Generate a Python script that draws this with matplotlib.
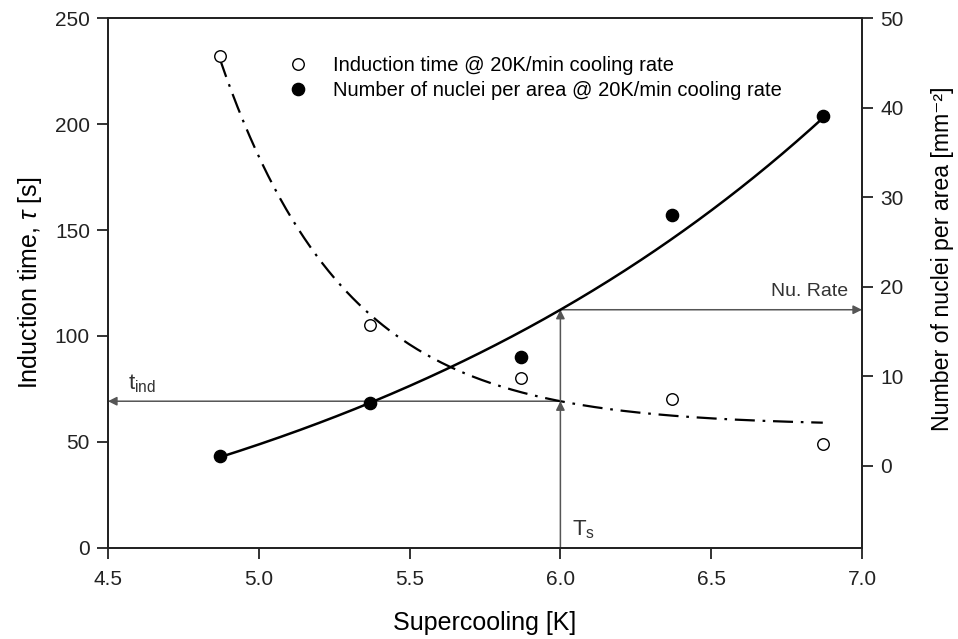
import numpy as np
import matplotlib
matplotlib.use("Agg")
import matplotlib.pyplot as plt
from matplotlib.lines import Line2D

plt.rcParams['font.family'] = ['Liberation Sans', 'DejaVu Sans']
plt.rcParams['mathtext.fontset'] = 'custom'
plt.rcParams['mathtext.rm'] = 'Liberation Sans'
plt.rcParams['mathtext.it'] = 'Liberation Sans:italic'

# Measured data
supercooling = [4.87, 5.37, 5.87, 6.37, 6.87]          # K
induction_time = [232, 105, 80, 70, 49]                 # s
nuclei_per_area = [1.1, 7.0, 12.1, 28.0, 39.1]          # mm^-2
Ts = 6.0                                                # selected supercooling

# Exponential growth model for nuclei density: a + b*exp(k*(x - xref))
nuclei_model = dict(a=-19.2, b=34.2, k=0.529, xref=5.87)

x = np.array(supercooling)
tau = np.array(induction_time, dtype=float)
nu = np.array(nuclei_per_area, dtype=float)
x0 = x[0]


def exp_decay_fit(xv, yv):
    """Least-squares fit of y = a + b*exp(-k*(x - x0))."""
    best = None
    for k in np.linspace(0.05, 10, 5000):
        A = np.column_stack([np.ones_like(xv), np.exp(-k * (xv - x0))])
        coef, *_ = np.linalg.lstsq(A, yv, rcond=None)
        sse = np.sum((A @ coef - yv) ** 2)
        if best is None or sse < best[0]:
            best = (sse, k, coef)
    _, k, (a, b) = best
    return lambda xx: a + b * np.exp(-k * (xx - x0))


tau_fit = exp_decay_fit(x, tau)


def nu_fit(xx):
    m = nuclei_model
    return m['a'] + m['b'] * np.exp(m['k'] * (xx - m['xref']))


xs = np.linspace(x[0], x[-1], 300)

fig = plt.figure(figsize=(9.58, 6.39), dpi=100)
ax = fig.add_axes([0.1127, 0.1429, 0.7871, 0.8285])
ax2 = ax.twinx()

# Fit curves
ax.plot(xs, tau_fit(xs), color='black', lw=1.6,
        dashes=(9, 3.5, 1.2, 3.5), zorder=3)
ax2.plot(xs, nu_fit(xs), color='black', lw=1.8, zorder=3)

# Data markers
ax.plot(x, tau, linestyle='none', marker='o', ms=8.3, mfc='white',
        mec='black', mew=1.0, zorder=5)
ax2.plot(x, nu, linestyle='none', marker='o', ms=8.8, mfc='black',
         mec='black', zorder=5)

# Axes limits and ticks
ax.set_xlim(4.5, 7.0)
ax.set_ylim(0, 250)
ax2.set_ylim(-9.15, 50)
ax.set_xticks(np.arange(4.5, 7.01, 0.5))
ax.set_yticks(np.arange(0, 251, 50))
ax2.set_yticks(np.arange(0, 51, 10))
ax.xaxis.set_major_formatter(matplotlib.ticker.FormatStrFormatter('%.1f'))

for a in (ax, ax2):
    for s in a.spines.values():
        s.set_linewidth(1.3)
        s.set_color('#222222')
    a.tick_params(direction='out', length=8, width=1.3, labelsize=15,
                  colors='#222222', pad=5)
ax.tick_params(axis='x', pad=8)

ax.set_xlabel('Supercooling [K]', fontsize=18, labelpad=16)
ax.set_ylabel(r'Induction time, $\tau$ [s]', fontsize=18, labelpad=8)
ax2.set_ylabel('Number of nuclei per area [mm⁻²]', fontsize=16.7)
ax2.yaxis.set_label_coords(1.092, 0.545)

# Construction arrows at Ts
t6 = tau_fit(Ts)
n6 = nu_fit(Ts)
arrow_col = '#555555'
ap = dict(arrowstyle='-|>', color=arrow_col, lw=1.1, mutation_scale=13,
          shrinkA=0, shrinkB=0)
ax.annotate('', xy=(Ts, t6), xytext=(Ts, 0), arrowprops=ap, zorder=2)
ax.annotate('', xy=(4.5, t6), xytext=(Ts, t6), arrowprops=ap, zorder=2)
ax2.annotate('', xy=(Ts, n6), xycoords=ax2.transData,
             xytext=(Ts, t6), textcoords=ax.transData, arrowprops=ap,
             zorder=2)
ax2.annotate('', xy=(7.0, n6), xytext=(Ts, n6), arrowprops=ap, zorder=2)

ax.text(4.565, t6 + 3, r'$\mathregular{t_{ind}}$', fontsize=16,
        color='#333333', ha='left', va='bottom')
ax.text(Ts + 0.04, 3, r'$\mathregular{T_s}$', fontsize=16,
        color='#333333', ha='left', va='bottom')
ax2.text(6.955, n6 + 1.1, 'Nu. Rate', fontsize=14, color='#333333',
         ha='right', va='bottom')

# Legend
handles = [
    Line2D([], [], linestyle='none', marker='o', ms=8.3, mfc='white',
           mec='black', mew=1.0),
    Line2D([], [], linestyle='none', marker='o', ms=8.8, mfc='black',
           mec='black'),
]
labels = ['Induction time @ 20K/min cooling rate',
          'Number of nuclei per area @ 20K/min cooling rate']
ax.legend(handles, labels, loc='upper left',
          bbox_to_anchor=(290 / 958, 1 - 56 / 639),
          bbox_transform=fig.transFigure, frameon=False, fontsize=14.5,
          handlelength=0.8, handletextpad=1.35, labelspacing=0.3,
          borderpad=0, borderaxespad=0)

fig.savefig('out.png', dpi=100)
